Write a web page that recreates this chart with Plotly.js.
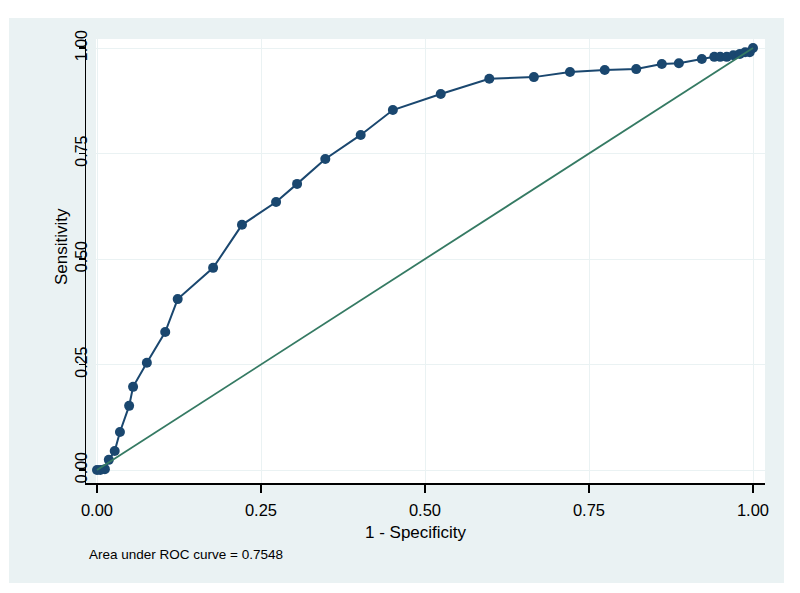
<!DOCTYPE html>
<html>
<head>
<meta charset="utf-8">
<script src="https://cdn.plot.ly/plotly-3.0.1.min.js"></script>
<style>html,body{margin:0;padding:0;background:#fff;}#chart{width:800px;height:593px;}</style>
</head>
<body>
<div id="chart"></div>
<script>
// 1 - Specificity (false positive rate)
const fpr = [0, 0.005, 0.012, 0.018, 0.027, 0.035, 0.049, 0.055, 0.076, 0.104, 0.123, 0.177, 0.221, 0.273, 0.305, 0.348, 0.402, 0.451, 0.524, 0.598, 0.666, 0.721, 0.774, 0.822, 0.861, 0.887, 0.922, 0.941, 0.950, 0.960, 0.970, 0.980, 0.988, 0.995, 1];
// Sensitivity (true positive rate)
const tpr = [0, 0, 0.002, 0.024, 0.045, 0.09, 0.152, 0.197, 0.254, 0.327, 0.405, 0.479, 0.581, 0.635, 0.678, 0.737, 0.794, 0.853, 0.891, 0.927, 0.931, 0.943, 0.948, 0.950, 0.962, 0.964, 0.974, 0.979, 0.979, 0.979, 0.983, 0.986, 0.99, 0.99, 1];
// Reference (chance) line
const refX = [0, 1];
const refY = [0, 1];
const tickVals = [0, 0.25, 0.5, 0.75, 1];
const tickText = ["0.00", "0.25", "0.50", "0.75", "1.00"];
const xTitle = "1 - Specificity";
const yTitle = "Sensitivity";
const note = "Area under ROC curve = 0.7548";

const FONT = "Liberation Sans, Arial, sans-serif";
const BG = "#eaf2f3";

const traces = [
  {
    x: fpr, y: tpr, type: "scatter", mode: "lines+markers",
    line: {color: "#1a476f", width: 2},
    marker: {color: "#1a476f", size: 10, symbol: "circle"},
    hoverinfo: "skip", showlegend: false
  },
  {
    x: refX, y: refY, type: "scatter", mode: "lines",
    line: {color: "#357a63", width: 1.8},
    hoverinfo: "skip", showlegend: false
  }
];

const layout = {
  width: 800, height: 593, autosize: false,
  margin: {l: 86, r: 35, t: 39, b: 110, pad: 0},
  paper_bgcolor: "#ffffff",
  plot_bgcolor: "rgba(0,0,0,0)",
  font: {family: FONT, color: "#000"},
  showlegend: false,
  xaxis: {
    range: [-0.016768, 1.018293],
    tickvals: tickVals, ticktext: tickText,
    ticks: "outside", ticklen: 8, tickwidth: 1.5, tickcolor: "#000",
    ticklabelstandoff: 4,
    tickfont: {size: 16.5, family: FONT, color: "#000"},
    showgrid: true, gridcolor: BG, gridwidth: 1,
    zeroline: false,
    showline: true, linecolor: "#000", linewidth: 1.5,
    fixedrange: true
  },
  yaxis: {
    range: [-0.030806, 1.021327],
    tickvals: tickVals, ticktext: tickText,
    ticks: "outside", ticklen: 6, tickwidth: 1.5, tickcolor: "#000",
    tickangle: -90,
    ticklabelstandoff: -15,
    tickfont: {size: 16, family: FONT, color: "#000"},
    showgrid: true, gridcolor: BG, gridwidth: 1,
    zeroline: false,
    showline: true, linecolor: "#000", linewidth: 1.5,
    fixedrange: true
  },
  shapes: [
    {type: "rect", xref: "paper", yref: "paper", x0: -0.1134, x1: 1.028, y0: -0.2252, y1: 1.0473,
     fillcolor: BG, line: {width: 0}, layer: "below"},
    {type: "rect", xref: "paper", yref: "paper", x0: 0.0147, x1: 1, y0: 0, y1: 1,
     fillcolor: "#ffffff", line: {width: 0}, layer: "below"}
  ],
  annotations: [
    {text: xTitle, xref: "paper", yref: "paper", x: 0.486, y: -0.1104,
     xanchor: "center", yanchor: "middle", showarrow: false,
     font: {size: 17, family: FONT, color: "#000"}},
    {text: yTitle, xref: "paper", yref: "paper", x: -0.0368, y: 0.5315,
     xanchor: "center", yanchor: "middle", textangle: -90, showarrow: false,
     font: {size: 17, family: FONT, color: "#000"}},
    {text: note, xref: "paper", yref: "paper", x: 0.0015, y: -0.162,
     xanchor: "left", yanchor: "middle", showarrow: false,
     font: {size: 13.5, family: FONT, color: "#000"}}
  ]
};

Plotly.newPlot("chart", traces, layout, {displayModeBar: false, staticPlot: true});
</script>
</body>
</html>
